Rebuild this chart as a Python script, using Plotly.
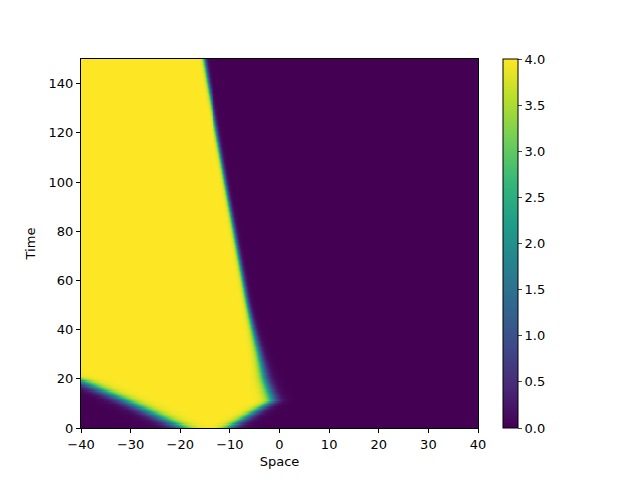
import numpy as np
import plotly.graph_objects as go

# front positions (time, space)
left_t = [0, 10, 19, 30, 150]
left_x = [-19.8, -30, -40, -60, -60]

right_t = [0, 11, 20, 30, 40, 50, 100, 140, 150]
right_x = [-10.0, -1.4, -3.0, -4.1, -5.3, -6.4, -10.9, -14.4, -15.2]
right_w = [1.8, 1.5, 1.2, 0.9, 0.7, 0.55, 0.45, 0.45, 0.45]

u_max = 4.0

space = np.linspace(-40, 40, 401)
time = np.linspace(0, 150, 301)

# build the grid from the fronts
X, T = np.meshgrid(space, time)
xl = np.interp(T, left_t, left_x)
xr = np.interp(T, right_t, right_x)
wr = np.interp(T, right_t, right_w)
u = u_max * 0.5 * (1 + np.tanh((X - xl) / 2.5)) * 0.5 * (1 + np.tanh((xr - X) / wr))

fig = go.Figure(go.Heatmap(
    x=space, y=time, z=u,
    colorscale="Viridis", zmin=0, zmax=4,
    colorbar=dict(
        x=1.063, xanchor="left", xpad=0, ypad=0, thickness=15, len=1,
        y=0.5, yanchor="middle",
        tickvals=[0, 0.5, 1, 1.5, 2, 2.5, 3, 3.5, 4], tickformat=".1f",
        ticks="outside", ticklen=4, outlinewidth=1, outlinecolor="black",
        tickfont=dict(size=13, color="black"),
    ),
))

axis = dict(showline=True, mirror=True, linecolor="black", linewidth=1,
            ticks="outside", ticklen=4, tickcolor="black", showgrid=False,
            zeroline=False, tickfont=dict(size=13, color="black"))

fig.update_layout(
    width=640, height=480,
    margin=dict(l=73, r=170, t=51, b=60),
    paper_bgcolor="white", plot_bgcolor="white",
    font=dict(family="DejaVu Sans", color="black"),
    xaxis=dict(axis, range=[-40, 40], tickvals=[-40, -30, -20, -10, 0, 10, 20, 30, 40],
               title=dict(text="Space", font=dict(size=13), standoff=6)),
    yaxis=dict(axis, range=[0, 150], tickvals=[0, 20, 40, 60, 80, 100, 120, 140],
               title=dict(text="Time", font=dict(size=13), standoff=10)),
)

fig.write_html("out.html")
